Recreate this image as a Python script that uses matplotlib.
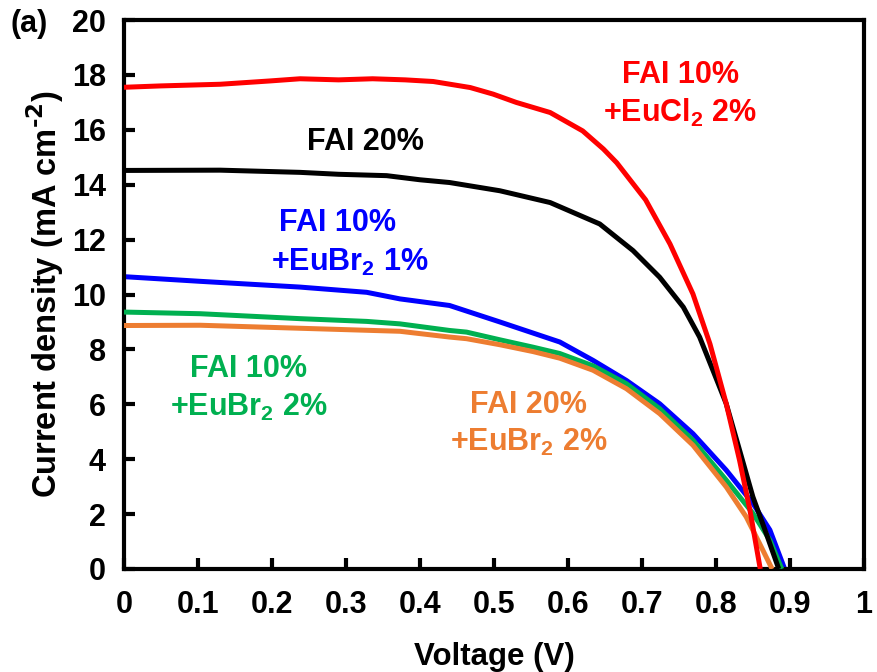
import numpy as np
import matplotlib
matplotlib.use("Agg")
import matplotlib.pyplot as plt

plt.rcParams['font.family'] = ['Liberation Sans', 'DejaVu Sans']
plt.rcParams['font.weight'] = 'bold'
plt.rcParams['mathtext.default'] = 'regular'

# J-V curves (voltage in V, current density in mA cm-2)
v_red = [0, 0.05, 0.13, 0.197, 0.238, 0.29, 0.336, 0.38, 0.418, 0.468, 0.499, 0.53,
         0.576, 0.62, 0.648, 0.666, 0.705, 0.738, 0.769, 0.792, 0.814, 0.832, 0.846, 0.86]
j_red = [17.55, 17.6, 17.66, 17.78, 17.86, 17.82, 17.86, 17.82, 17.76, 17.54, 17.3, 17.0,
         16.63, 15.96, 15.3, 14.8, 13.45, 11.84, 10.02, 8.2, 6.02, 3.96, 2.15, 0.0]

v_black = [0, 0.13, 0.238, 0.29, 0.355, 0.4, 0.44, 0.508, 0.576, 0.643, 0.688, 0.724,
           0.756, 0.778, 0.796, 0.814, 0.832, 0.85, 0.868, 0.885]
j_black = [14.52, 14.53, 14.45, 14.38, 14.33, 14.18, 14.08, 13.78, 13.35, 12.57, 11.6, 10.63,
           9.54, 8.45, 7.24, 6.02, 4.33, 2.63, 1.3, 0.0]

v_blue = [0, 0.103, 0.238, 0.328, 0.373, 0.44, 0.508, 0.589, 0.634, 0.679, 0.724,
          0.769, 0.814, 0.85, 0.873, 0.893]
j_blue = [10.65, 10.48, 10.27, 10.08, 9.84, 9.6, 9.0, 8.27, 7.6, 6.87, 6.02,
          4.93, 3.6, 2.39, 1.42, 0.0]

v_green = [0, 0.103, 0.238, 0.328, 0.373, 0.44, 0.463, 0.508, 0.553, 0.589, 0.634,
           0.679, 0.724, 0.769, 0.814, 0.85, 0.873, 0.889]
j_green = [9.36, 9.3, 9.12, 9.02, 8.93, 8.69, 8.63, 8.35, 8.08, 7.85, 7.4,
           6.75, 5.84, 4.69, 3.24, 2.03, 1.05, 0.0]

v_orange = [0, 0.103, 0.238, 0.373, 0.44, 0.463, 0.508, 0.553, 0.589, 0.634, 0.679,
            0.724, 0.769, 0.814, 0.841, 0.859, 0.876]
j_orange = [8.87, 8.88, 8.77, 8.66, 8.45, 8.39, 8.17, 7.92, 7.68, 7.24, 6.57,
            5.66, 4.51, 2.99, 1.9, 0.93, 0.0]

fig = plt.figure(figsize=(8.77, 6.72), dpi=100)
ax = fig.add_axes([0.1414, 0.1533, 0.8436, 0.8169])

lw = 3.6
style = dict(lw=lw, solid_joinstyle='round', solid_capstyle='butt')
ax.plot(v_blue, j_blue, color='#0000FF', zorder=2, **style)
ax.plot(v_green, j_green, color='#00B050', zorder=3, **style)
ax.plot(v_orange, j_orange, color='#ED7D31', zorder=4, **style)
ax.plot(v_black, j_black, color='black', zorder=5, **style)
ax.plot(v_red, j_red, color='#FF0000', zorder=6, **style)

ax.set_xlim(0, 1)
ax.set_ylim(0, 20)
ax.set_xticks(np.arange(0, 1.01, 0.1))
ax.set_xticklabels(['0', '0.1', '0.2', '0.3', '0.4', '0.5', '0.6', '0.7', '0.8', '0.9', '1'])
ax.set_yticks(range(0, 21, 2))
ax.tick_params(direction='in', length=8, width=3, labelsize=22)
ax.tick_params(axis='x', pad=15)
ax.tick_params(axis='y', pad=13)
for s in ax.spines.values():
    s.set_linewidth(3)

ax.set_xlabel('Voltage (V)', fontsize=22.5, fontweight='bold', labelpad=16)
ax.set_ylabel(r'Current density (mA cm$^{\text{-2}}$)', fontsize=23.5, fontweight='bold', labelpad=4)

fs = 22
def label(x, y, txt, c):
    ax.text(x, y, txt, color=c, fontsize=fs, fontweight='bold',
            ha='center', va='center', transform=ax.transData)

label(0.752, 18.0, 'FAI 10%', '#FF0000')
label(0.752, 16.6, '+EuCl$_2$ 2%', '#FF0000')
label(0.327, 15.55, 'FAI 20%', 'black')
label(0.288, 12.6, 'FAI 10%', '#0000FF')
label(0.305, 11.15, '+EuBr$_2$ 1%', '#0000FF')
label(0.168, 7.3, 'FAI 10%', '#00B050')
label(0.168, 5.9, '+EuBr$_2$ 2%', '#00B050')
label(0.547, 5.98, 'FAI 20%', '#ED7D31')
label(0.547, 4.6, '+EuBr$_2$ 2%', '#ED7D31')

fig.text(0.012, 0.965, '(a)', fontsize=22, fontweight='bold', ha='left', va='center')

fig.savefig('out.png', dpi=100)
